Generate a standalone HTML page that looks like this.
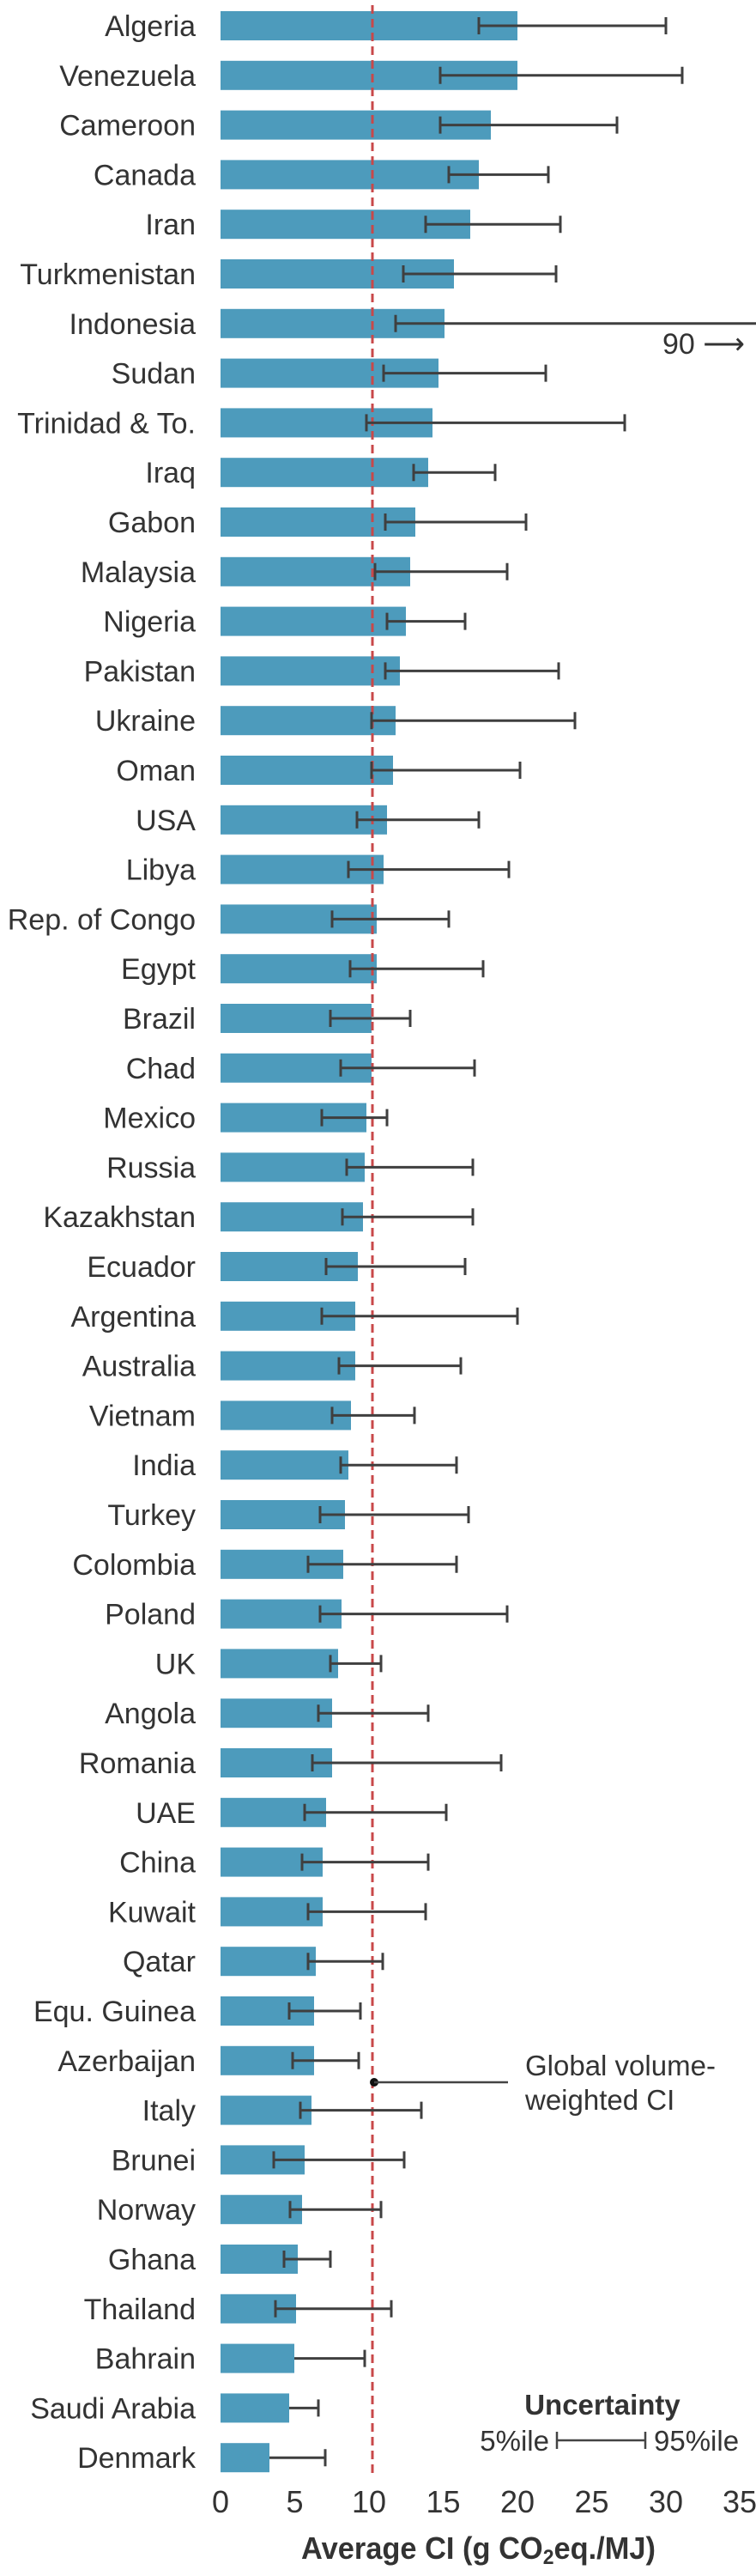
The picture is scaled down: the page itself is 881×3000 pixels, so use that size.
<!DOCTYPE html>
<html><head><meta charset="utf-8"><style>
html,body{margin:0;padding:0;background:#fff;}
svg{display:block;}
text{font-family:"Liberation Sans",sans-serif;fill:#333;}
.l{font-size:34px;text-anchor:end;}
.e{stroke:#3f3f3f;stroke-width:3;fill:none;}
</style></head><body>
<svg width="881" height="3000" viewBox="0 0 881 3000" xmlns="http://www.w3.org/2000/svg">
<defs>
<g id="b"></g>
</defs>
<g fill="#4d9bbc">
<rect x="257" y="13" width="346" height="34"/>
<rect x="257" y="70.8" width="346" height="34"/>
<rect x="257" y="128.6" width="315" height="34"/>
<rect x="257" y="186.4" width="301" height="34"/>
<rect x="257" y="244.2" width="291" height="34"/>
<rect x="257" y="302" width="272" height="34"/>
<rect x="257" y="359.8" width="261" height="34"/>
<rect x="257" y="417.6" width="254" height="34"/>
<rect x="257" y="475.4" width="247" height="34"/>
<rect x="257" y="533.2" width="242" height="34"/>
<rect x="257" y="591" width="227" height="34"/>
<rect x="257" y="648.8" width="221" height="34"/>
<rect x="257" y="706.6" width="216" height="34"/>
<rect x="257" y="764.4" width="209" height="34"/>
<rect x="257" y="822.2" width="204" height="34"/>
<rect x="257" y="880" width="201" height="34"/>
<rect x="257" y="937.8" width="194" height="34"/>
<rect x="257" y="995.6" width="190" height="34"/>
<rect x="257" y="1053.4" width="182" height="34"/>
<rect x="257" y="1111.2" width="182" height="34"/>
<rect x="257" y="1169" width="176" height="34"/>
<rect x="257" y="1226.8" width="176" height="34"/>
<rect x="257" y="1284.6" width="170" height="34"/>
<rect x="257" y="1342.4" width="168" height="34"/>
<rect x="257" y="1400.2" width="166" height="34"/>
<rect x="257" y="1458" width="160" height="34"/>
<rect x="257" y="1515.8" width="157" height="34"/>
<rect x="257" y="1573.6" width="157" height="34"/>
<rect x="257" y="1631.4" width="152" height="34"/>
<rect x="257" y="1689.2" width="149" height="34"/>
<rect x="257" y="1747" width="145" height="34"/>
<rect x="257" y="1804.8" width="143" height="34"/>
<rect x="257" y="1862.6" width="141" height="34"/>
<rect x="257" y="1920.4" width="137" height="34"/>
<rect x="257" y="1978.2" width="130" height="34"/>
<rect x="257" y="2036" width="130" height="34"/>
<rect x="257" y="2093.8" width="123" height="34"/>
<rect x="257" y="2151.6" width="119" height="34"/>
<rect x="257" y="2209.4" width="119" height="34"/>
<rect x="257" y="2267.2" width="111" height="34"/>
<rect x="257" y="2325" width="109" height="34"/>
<rect x="257" y="2382.8" width="109" height="34"/>
<rect x="257" y="2440.6" width="106" height="34"/>
<rect x="257" y="2498.4" width="98" height="34"/>
<rect x="257" y="2556.2" width="95" height="34"/>
<rect x="257" y="2614" width="90" height="34"/>
<rect x="257" y="2671.8" width="88" height="34"/>
<rect x="257" y="2729.6" width="86" height="34"/>
<rect x="257" y="2787.4" width="80" height="34"/>
<rect x="257" y="2845.2" width="57" height="34"/>
</g>
<line x1="434" y1="6" x2="434" y2="2885" stroke="#c8484a" stroke-width="3" stroke-dasharray="10,6"/>
<g class="e">
<path d="M558 30H776M558 20V40M776 20V40"/>
<path d="M513 87.8H795M513 77.8V97.8M795 77.8V97.8"/>
<path d="M513 145.6H719M513 135.6V155.6M719 135.6V155.6"/>
<path d="M523 203.4H639M523 193.4V213.4M639 193.4V213.4"/>
<path d="M496 261.2H653M496 251.2V271.2M653 251.2V271.2"/>
<path d="M470 319H648M470 309V329M648 309V329"/>
<path d="M461 376.8H881M461 366.8V386.8"/>
<path d="M447 434.6H636M447 424.6V444.6M636 424.6V444.6"/>
<path d="M427 492.4H728M427 482.4V502.4M728 482.4V502.4"/>
<path d="M482 550.2H577M482 540.2V560.2M577 540.2V560.2"/>
<path d="M449 608H613M449 598V618M613 598V618"/>
<path d="M437 665.8H591M437 655.8V675.8M591 655.8V675.8"/>
<path d="M451 723.6H542M451 713.6V733.6M542 713.6V733.6"/>
<path d="M449 781.4H651M449 771.4V791.4M651 771.4V791.4"/>
<path d="M433 839.2H670M433 829.2V849.2M670 829.2V849.2"/>
<path d="M433 897H606M433 887V907M606 887V907"/>
<path d="M416 954.8H558M416 944.8V964.8M558 944.8V964.8"/>
<path d="M406 1012.6H593M406 1002.6V1022.6M593 1002.6V1022.6"/>
<path d="M387 1070.4H523M387 1060.4V1080.4M523 1060.4V1080.4"/>
<path d="M408 1128.2H563M408 1118.2V1138.2M563 1118.2V1138.2"/>
<path d="M385 1186H478M385 1176V1196M478 1176V1196"/>
<path d="M397 1243.8H553M397 1233.8V1253.8M553 1233.8V1253.8"/>
<path d="M375 1301.6H451M375 1291.6V1311.6M451 1291.6V1311.6"/>
<path d="M404 1359.4H551M404 1349.4V1369.4M551 1349.4V1369.4"/>
<path d="M399 1417.2H551M399 1407.2V1427.2M551 1407.2V1427.2"/>
<path d="M380 1475H542M380 1465V1485M542 1465V1485"/>
<path d="M375 1532.8H603M375 1522.8V1542.8M603 1522.8V1542.8"/>
<path d="M395 1590.6H537M395 1580.6V1600.6M537 1580.6V1600.6"/>
<path d="M387 1648.4H483M387 1638.4V1658.4M483 1638.4V1658.4"/>
<path d="M397 1706.2H532M397 1696.2V1716.2M532 1696.2V1716.2"/>
<path d="M373 1764H546M373 1754V1774M546 1754V1774"/>
<path d="M359 1821.8H532M359 1811.8V1831.8M532 1811.8V1831.8"/>
<path d="M373 1879.6H591M373 1869.6V1889.6M591 1869.6V1889.6"/>
<path d="M385 1937.4H444M385 1927.4V1947.4M444 1927.4V1947.4"/>
<path d="M371 1995.2H499M371 1985.2V2005.2M499 1985.2V2005.2"/>
<path d="M364 2053H584M364 2043V2063M584 2043V2063"/>
<path d="M355 2110.8H520M355 2100.8V2120.8M520 2100.8V2120.8"/>
<path d="M352 2168.6H499M352 2158.6V2178.6M499 2158.6V2178.6"/>
<path d="M359 2226.4H496M359 2216.4V2236.4M496 2216.4V2236.4"/>
<path d="M359 2284.2H446M359 2274.2V2294.2M446 2274.2V2294.2"/>
<path d="M337 2342H420M337 2332V2352M420 2332V2352"/>
<path d="M341 2399.8H418M341 2389.8V2409.8M418 2389.8V2409.8"/>
<path d="M350 2457.6H491M350 2447.6V2467.6M491 2447.6V2467.6"/>
<path d="M319 2515.4H471M319 2505.4V2525.4M471 2505.4V2525.4"/>
<path d="M338 2573.2H444M338 2563.2V2583.2M444 2563.2V2583.2"/>
<path d="M331 2631H385M331 2621V2641M385 2621V2641"/>
<path d="M321 2688.8H456M321 2678.8V2698.8M456 2678.8V2698.8"/>
<path d="M343 2746.6H425M425 2736.6V2756.6"/>
<path d="M337 2804.4H371M371 2794.4V2814.4"/>
<path d="M314 2862.2H379M379 2852.2V2872.2"/>
</g>
<g class="l">
<text x="228" y="42">Algeria</text>
<text x="228" y="99.8">Venezuela</text>
<text x="228" y="157.6">Cameroon</text>
<text x="228" y="215.4">Canada</text>
<text x="228" y="273.2">Iran</text>
<text x="228" y="331">Turkmenistan</text>
<text x="228" y="388.8">Indonesia</text>
<text x="228" y="446.6">Sudan</text>
<text x="228" y="504.4">Trinidad &amp; To.</text>
<text x="228" y="562.2">Iraq</text>
<text x="228" y="620">Gabon</text>
<text x="228" y="677.8">Malaysia</text>
<text x="228" y="735.6">Nigeria</text>
<text x="228" y="793.4">Pakistan</text>
<text x="228" y="851.2">Ukraine</text>
<text x="228" y="909">Oman</text>
<text x="228" y="966.8">USA</text>
<text x="228" y="1024.6">Libya</text>
<text x="228" y="1082.4">Rep. of Congo</text>
<text x="228" y="1140.2">Egypt</text>
<text x="228" y="1198">Brazil</text>
<text x="228" y="1255.8">Chad</text>
<text x="228" y="1313.6">Mexico</text>
<text x="228" y="1371.4">Russia</text>
<text x="228" y="1429.2">Kazakhstan</text>
<text x="228" y="1487">Ecuador</text>
<text x="228" y="1544.8">Argentina</text>
<text x="228" y="1602.6">Australia</text>
<text x="228" y="1660.4">Vietnam</text>
<text x="228" y="1718.2">India</text>
<text x="228" y="1776">Turkey</text>
<text x="228" y="1833.8">Colombia</text>
<text x="228" y="1891.6">Poland</text>
<text x="228" y="1949.4">UK</text>
<text x="228" y="2007.2">Angola</text>
<text x="228" y="2065">Romania</text>
<text x="228" y="2122.8">UAE</text>
<text x="228" y="2180.6">China</text>
<text x="228" y="2238.4">Kuwait</text>
<text x="228" y="2296.2">Qatar</text>
<text x="228" y="2354">Equ. Guinea</text>
<text x="228" y="2411.8">Azerbaijan</text>
<text x="228" y="2469.6">Italy</text>
<text x="228" y="2527.4">Brunei</text>
<text x="228" y="2585.2">Norway</text>
<text x="228" y="2643">Ghana</text>
<text x="228" y="2700.8">Thailand</text>
<text x="228" y="2758.6">Bahrain</text>
<text x="228" y="2816.4">Saudi Arabia</text>
<text x="228" y="2874.2">Denmark</text>
</g>
<text x="868" y="412" font-size="34" text-anchor="end">90 ⟶</text>
<circle cx="436" cy="2425" r="5" fill="#111"/>
<line x1="436" y1="2425" x2="592" y2="2425" stroke="#444" stroke-width="2.5"/>
<text x="612" y="2417" font-size="33">Global volume-</text>
<text x="612" y="2457" font-size="33">weighted CI</text>
<text x="702" y="2812" font-size="33" font-weight="bold" text-anchor="middle" fill="#222">Uncertainty</text>
<text x="640" y="2854" font-size="33" text-anchor="end">5%ile</text>
<path d="M649 2842H752M649 2832V2852M752 2832V2852" stroke="#444" stroke-width="2.5" fill="none"/>
<text x="762" y="2854" font-size="33">95%ile</text>
<g font-size="36" text-anchor="middle">
<text x="257" y="2926">0</text>
<text x="343.5" y="2926">5</text>
<text x="430" y="2926">10</text>
<text x="516.5" y="2926">15</text>
<text x="603" y="2926">20</text>
<text x="689.5" y="2926">25</text>
<text x="776" y="2926">30</text>
<text x="862" y="2926">35</text>
</g>
<text x="351" y="2980" font-size="36" font-weight="bold" fill="#222" textLength="413" lengthAdjust="spacingAndGlyphs">Average CI (g CO<tspan font-size="24" dy="6">2</tspan><tspan dy="-6">eq./MJ)</tspan></text>
</svg>
</body></html>
